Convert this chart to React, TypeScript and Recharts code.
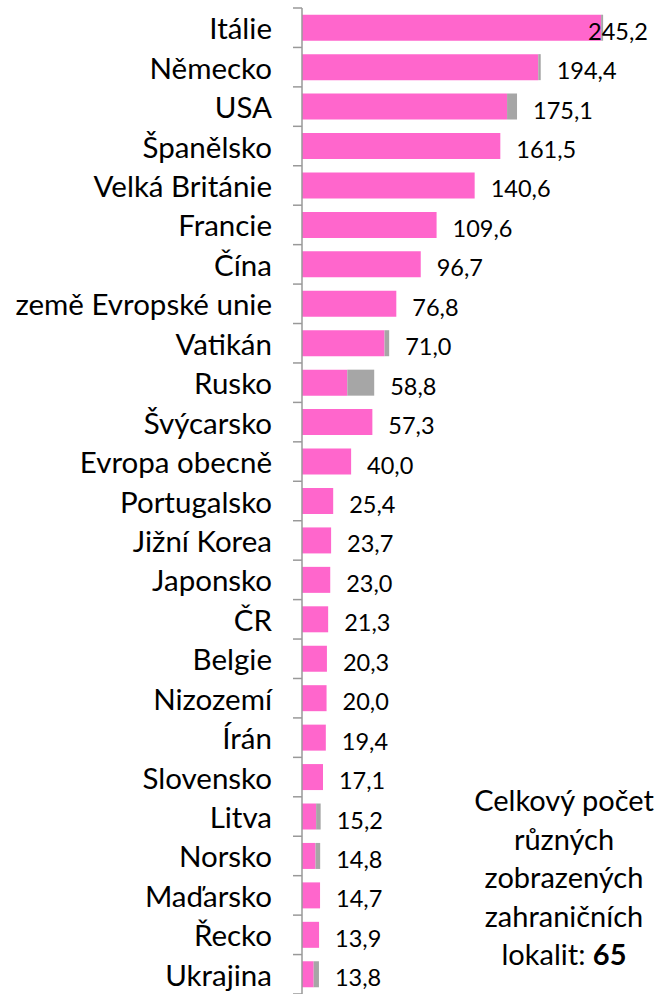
import { Bar, BarChart, LabelList, XAxis, YAxis } from "recharts";

const countries = [
  "Itálie",
  "Německo",
  "USA",
  "Španělsko",
  "Velká Británie",
  "Francie",
  "Čína",
  "země Evropské unie",
  "Vatikán",
  "Rusko",
  "Švýcarsko",
  "Evropa obecně",
  "Portugalsko",
  "Jižní Korea",
  "Japonsko",
  "ČR",
  "Belgie",
  "Nizozemí",
  "Írán",
  "Slovensko",
  "Litva",
  "Norsko",
  "Maďarsko",
  "Řecko",
  "Ukrajina"
];

const pinkValues = [
  243.6, 192.4, 167.0, 161.5, 140.6, 109.6, 96.7, 76.8, 67.2, 36.9, 57.3, 40.0, 25.4, 23.7, 23.0, 21.3, 20.3,
  20.0, 19.4, 17.1, 11.5, 11.0, 14.7, 13.9, 9.5
];

const grayValues = [
  1.6, 2.0, 8.1, 0, 0, 0, 0, 0, 3.8, 21.9, 0, 0, 0, 0, 0, 0, 0, 0, 0, 0, 3.7, 3.8, 0, 0, 4.3
];

const totals = [
  245.2, 194.4, 175.1, 161.5, 140.6, 109.6, 96.7, 76.8, 71.0, 58.8, 57.3, 40.0, 25.4, 23.7, 23.0, 21.3, 20.3,
  20.0, 19.4, 17.1, 15.2, 14.8, 14.7, 13.9, 13.8
];

const data = countries.map((name, i) => ({
  name,
  pink: pinkValues[i],
  gray: grayValues[i],
  total: totals[i]
}));

const WIDTH = 657;
const HEIGHT = 994;
const TOP = 8;
const AXIS_W = 302;
const BAND = (HEIGHT - TOP) / countries.length;
const FONT = "Lato, 'Open Sans', sans-serif";

function CategoryTick({ y, payload, index }: any) {
  const top = y - BAND / 2;
  return (
    <g>
      <line x1={AXIS_W - 9} x2={AXIS_W} y1={top} y2={top} stroke="#999" strokeWidth={1.5} />
      {index === countries.length - 1 && (
        <line x1={AXIS_W - 9} x2={AXIS_W} y1={top + BAND} y2={top + BAND} stroke="#999" strokeWidth={1.5} />
      )}
      <text x={AXIS_W - 30} y={y} textAnchor="end" dominantBaseline="central" fontSize={29.5} fill="#000">
        {payload.value}
      </text>
    </g>
  );
}

// label hangs off the pink bar, shifted to the end of the whole stack
function TotalLabel({ x, y, width, height, index }: any) {
  const d = data[index];
  const end = x + (width * d.total) / d.pink;
  const lx = Math.min(end + 16, 588);
  return (
    <text x={lx} y={y + height / 2 + 3} dominantBaseline="central" fontSize={23.5} fill="#000">
      {d.total.toFixed(1).replace(".", ",")}
    </text>
  );
}

export default function App() {
  return (
    <div style={{ position: "absolute", left: 0, top: 0, width: WIDTH, height: HEIGHT, fontFamily: FONT }}>
      <BarChart
        width={WIDTH}
        height={HEIGHT}
        data={data}
        layout="vertical"
        margin={{ top: TOP, right: 48, bottom: 0, left: 0 }}
        barCategoryGap="17%"
        style={{ fontFamily: FONT }}
      >
        <XAxis type="number" domain={[0, 250]} hide />
        <YAxis
          type="category"
          dataKey="name"
          width={AXIS_W}
          axisLine={{ stroke: "#999", strokeWidth: 1.5 }}
          tickLine={false}
          tick={<CategoryTick />}
          interval={0}
        />
        <Bar dataKey="pink" stackId="a" fill="#FF66CC" isAnimationActive={false}>
          <LabelList dataKey="total" content={<TotalLabel />} />
        </Bar>
        <Bar dataKey="gray" stackId="a" fill="#A6A6A6" isAnimationActive={false} />
      </BarChart>
      <div
        style={{
          position: "absolute",
          left: 460,
          top: 781,
          width: 208,
          textAlign: "center",
          fontSize: 29,
          lineHeight: "38.5px",
          color: "#000"
        }}
      >
        Celkový počet
        <br />
        různých
        <br />
        zobrazených
        <br />
        zahraničních
        <br />
        lokalit: <b>65</b>
      </div>
    </div>
  );
}
